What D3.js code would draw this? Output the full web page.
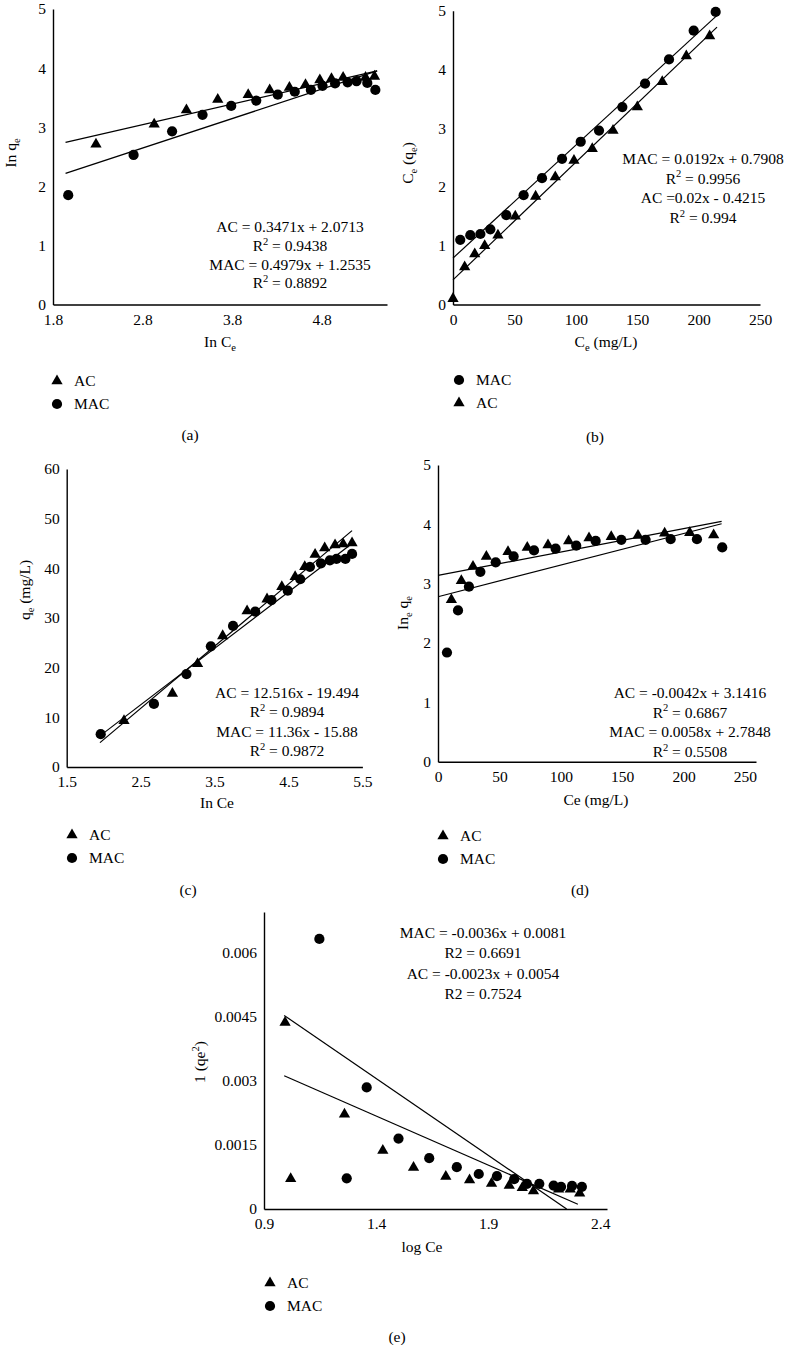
<!DOCTYPE html>
<html><head><meta charset="utf-8">
<script src="https://cdn.jsdelivr.net/npm/d3@7"></script>
<style>
body{margin:0;background:#fff}
svg{display:block}
text{font-family:"Liberation Serif","Times New Roman",serif;fill:#000;white-space:pre}
</style>
</head><body>
<svg id="chart" width="786" height="1345"></svg>
<script>
// ---------- DATA ----------
// Panel (a)  ln qe vs ln Ce
const aXTicks = [1.8, 2.8, 3.8, 4.8];
const aYTicks = [0, 1, 2, 3, 4, 5];
const aAC = [[2.28,2.71],[2.93,3.05],[3.29,3.29],[3.64,3.47],[3.98,3.55],[4.22,3.63],[4.44,3.67],[4.62,3.72],[4.78,3.80],[4.91,3.82],[5.04,3.84],[5.29,3.84],[5.39,3.86]];
const aMAC = [[1.97,1.85],[2.70,2.53],[3.13,2.93],[3.47,3.21],[3.79,3.36],[4.07,3.45],[4.31,3.55],[4.50,3.60],[4.68,3.63],[4.81,3.70],[4.95,3.74],[5.09,3.76],[5.19,3.78],[5.31,3.75],[5.40,3.63]];
const aTrendAC = [[1.94,2.744],[5.42,3.952]];
const aTrendMAC = [[1.94,2.219],[5.42,3.952]];
const aEq = ["AC = 0.3471x + 2.0713","R^2 = 0.9438","MAC = 0.4979x + 1.2535","R^2 = 0.8892"];

// Panel (b)  Ce/qe vs Ce
const bXTicks = [0, 50, 100, 150, 200, 250];
const bYTicks = [0, 1, 2, 3, 4, 5];
const bMAC = [[5.9,1.10],[14.1,1.18],[22.3,1.20],[30.4,1.28],[43.4,1.52],[57.5,1.86],[72.5,2.15],[88.8,2.48],[104.0,2.77],[118.9,2.96],[137.9,3.36],[156.4,3.76],[175.9,4.17],[196.0,4.66],[213.9,4.98]];
const bAC = [[0,0.10],[9.5,0.64],[17.7,0.86],[25.8,1.00],[36.6,1.18],[50.7,1.50],[67.3,1.84],[83.3,2.17],[98.5,2.45],[113.4,2.65],[130.3,2.96],[150.1,3.36],[170.4,3.79],[190.0,4.23],[209.0,4.57]];
const bTrendMAC = [[0,0.79],[215,4.92]];
const bTrendAC = [[0,0.42],[215,4.72]];
const bEq = ["MAC = 0.0192x + 0.7908","R^2 = 0.9956","AC =0.02x - 0.4215","R^2 = 0.994"];

// Panel (c)  qe vs ln Ce
const cXTicks = [1.5, 2.5, 3.5, 4.5, 5.5];
const cYTicks = [0, 10, 20, 30, 40, 50, 60];
const cAC = [[2.275,9.3],[2.93,14.8],[3.27,20.8],[3.61,26.4],[3.94,31.4],[4.21,33.8],[4.41,36.3],[4.59,38.3],[4.72,40.3],[4.86,42.8],[4.99,44.1],[5.13,44.7],[5.24,44.9],[5.36,45.1]];
const cMAC = [[1.96,6.6],[2.68,12.7],[3.12,18.7],[3.45,24.3],[3.75,28.4],[4.05,31.3],[4.27,33.6],[4.49,35.5],[4.66,37.8],[4.79,40.3],[4.94,41.0],[5.06,41.6],[5.15,41.9],[5.27,41.9],[5.36,42.9]];
const cTrendAC = [[1.95,4.91],[5.36,47.6]];
const cTrendMAC = [[1.95,6.27],[5.36,45.0]];
const cEq = ["AC = 12.516x - 19.494","R^2 = 0.9894","MAC = 11.36x - 15.88","R^2 = 0.9872"];

// Panel (d)  ln qe vs Ce
const dXTicks = [0, 50, 100, 150, 200, 250];
const dYTicks = [0, 1, 2, 3, 4, 5];
const dAC = [[10.9,2.73],[19.0,3.05],[28.5,3.29],[39.4,3.46],[57.0,3.54],[72.7,3.61],[89.6,3.65],[106.4,3.72],[123.0,3.77],[141.1,3.79],[162.9,3.81],[184.6,3.85],[205.0,3.86],[224.5,3.82]];
const dMAC = [[7.3,1.84],[16.3,2.55],[25.2,2.95],[34.5,3.20],[47.0,3.36],[61.6,3.46],[78.2,3.56],[95.8,3.59],[112.6,3.64],[128.4,3.72],[149.3,3.74],[169.1,3.74],[189.5,3.75],[210.9,3.75],[231.5,3.61]];
const dTrendAC = [[0,3.14],[231,4.05]];
const dTrendMAC = [[0,2.78],[231,4.01]];
const dEq = ["AC = -0.0042x + 3.1416","R^2 = 0.6867","MAC = 0.0058x + 2.7848","R^2 = 0.5508"];

// Panel (e)  1/qe^2 vs log Ce
const eXTicks = [0.9, 1.4, 1.9, 2.4];
const eYTicks = [0, 0.0015, 0.003, 0.0045, 0.006];
const eAC = [[0.994,0.00437],[1.019,0.00071],[1.259,0.00222],[1.430,0.00137],[1.567,0.00097],[1.711,0.00076],[1.817,0.00068],[1.915,0.00060],[1.994,0.00055],[2.052,0.00050],[2.102,0.00042],[2.214,0.00046],[2.266,0.00046],[2.308,0.00037]];
const eMAC = [[1.147,0.00633],[1.269,0.00072],[1.358,0.00285],[1.500,0.00165],[1.637,0.00119],[1.760,0.00098],[1.858,0.00082],[1.939,0.00077],[2.016,0.00070],[2.073,0.00059],[2.128,0.00059],[2.192,0.00055],[2.225,0.00052],[2.274,0.00054],[2.318,0.00052]];
const eTrendMAC = [[0.99,0.004536],[2.25,0]];
const eTrendAC = [[0.99,0.003123],[2.30,0.00011]];
const eEq = ["MAC = -0.0036x + 0.0081","R2 = 0.6691","AC = -0.0023x + 0.0054","R2 = 0.7524"];

// ---------- DRAWING ----------
const FS = 15.5;
const svg = d3.select('#chart');

function rich(t, str, fs){
  let shift = 0;
  str.split(/(\^.|_.)/).filter(s => s.length).forEach(p => {
    let target = 0, txt = p, size = fs;
    if (p[0] === '^') { target = -fs*0.4; txt = p.slice(1); size = fs*0.68; }
    else if (p[0] === '_') { target = fs*0.28; txt = p.slice(1); size = fs*0.68; }
    t.append('tspan').attr('dy', target - shift).attr('font-size', size).text(txt);
    shift = target;
  });
}

function label(x, y, str, opts = {}){
  const t = svg.append('text').attr('text-anchor', opts.anchor || 'middle').attr('font-size', FS);
  if (opts.rotate) t.attr('transform', `translate(${x + 5},${y}) rotate(-90)`);
  else t.attr('x', x).attr('y', y + 5);
  rich(t, str, FS);
  return t;
}

const triSym = d3.symbol().type(d3.symbolTriangle).size(55);
const cirSym = d3.symbol().type(d3.symbolCircle).size(82);
const shapes = {tri: triSym, circ: cirSym};

function panel(p){
  const x = d3.scaleLinear().domain(p.xDomain).range(p.xRange);
  const y = d3.scaleLinear().domain(p.yDomain).range(p.yRange);
  const g = svg.append('g');
  const ax = g.append('g').attr('transform', `translate(0,${p.yRange[0]})`)
    .call(d3.axisBottom(x).tickValues(p.xTicks).tickSize(0).tickPadding(9).tickFormat(String));
  const ay = g.append('g').attr('transform', `translate(${p.xRange[0]},0)`)
    .call(d3.axisLeft(y).tickValues(p.yTicks).tickSize(0).tickPadding(7).tickFormat(String));
  [ax, ay].forEach(a => {
    a.attr('font-size', FS).attr('font-family', null);
    a.select('.domain').attr('stroke', '#000').attr('stroke-width', 1.4);
  });
  const line = d3.line().x(d => x(d[0])).y(d => y(d[1]));
  p.trends.forEach(tr => g.append('path').attr('d', line(tr)).attr('fill', 'none').attr('stroke', '#000').attr('stroke-width', 1.2));
  p.series.forEach(s => {
    g.append('g').selectAll('path').data(s.data).join('path')
      .attr('transform', d => `translate(${x(d[0])},${y(d[1])})`)
      .attr('d', shapes[s.shape]).attr('fill', '#000');
  });
  p.eq.forEach((str, i) => label(p.eqPos[0], p.eqPos[1] + i*p.eqStep, str));
  label(p.xLabelPos[0], p.xLabelPos[1], p.xLabel);
  label(p.yLabelPos[0], p.yLabelPos[1], p.yLabel, {rotate: true});
  p.legend.forEach((lg, i) => {
    const ly = p.legendPos[1] + i*23;
    svg.append('path').attr('transform', `translate(${p.legendPos[0]},${ly})`).attr('d', shapes[lg.shape]).attr('fill', '#000');
    label(p.legendPos[0] + 17, ly, lg.name, {anchor: 'start'});
  });
  label(p.letterPos[0], p.letterPos[1], p.letter);
}

panel({xDomain:[1.8,5.53], xRange:[53,387], yDomain:[0,5], yRange:[304.5,9],
  xTicks:aXTicks, yTicks:aYTicks, series:[{shape:'tri',data:aAC},{shape:'circ',data:aMAC}],
  trends:[aTrendAC,aTrendMAC], eq:aEq, eqPos:[290,227], eqStep:18.8,
  xLabel:"In C_e", xLabelPos:[220,342], yLabel:"In q_e", yLabelPos:[11,153],
  legend:[{shape:'tri',name:'AC'},{shape:'circ',name:'MAC'}], legendPos:[57,381],
  letter:'(a)', letterPos:[190,435]});

panel({xDomain:[0,250], xRange:[453,760], yDomain:[0,5], yRange:[304.5,10.7],
  xTicks:bXTicks, yTicks:bYTicks, series:[{shape:'circ',data:bMAC},{shape:'tri',data:bAC}],
  trends:[bTrendMAC,bTrendAC], eq:bEq, eqPos:[703,159], eqStep:19.6,
  xLabel:"C_e (mg/L)", xLabelPos:[606,342], yLabel:"C_e (q_e)", yLabelPos:[408,163],
  legend:[{shape:'circ',name:'MAC'},{shape:'tri',name:'AC'}], legendPos:[459,380],
  letter:'(b)', letterPos:[595,437]});

panel({xDomain:[1.5,5.5], xRange:[66.7,362.4], yDomain:[0,60], yRange:[767,469],
  xTicks:cXTicks, yTicks:cYTicks, series:[{shape:'tri',data:cAC},{shape:'circ',data:cMAC}],
  trends:[cTrendAC,cTrendMAC], eq:cEq, eqPos:[287,693], eqStep:19.4,
  xLabel:"In Ce", xLabelPos:[217,803], yLabel:"q_e (mg/L)", yLabelPos:[25,590],
  legend:[{shape:'tri',name:'AC'},{shape:'circ',name:'MAC'}], legendPos:[72,835],
  letter:'(c)', letterPos:[188,890]});

panel({xDomain:[0,259], xRange:[438,756], yDomain:[0,5], yRange:[761.7,465],
  xTicks:dXTicks, yTicks:dYTicks, series:[{shape:'tri',data:dAC},{shape:'circ',data:dMAC}],
  trends:[dTrendAC,dTrendMAC], eq:dEq, eqPos:[690,693], eqStep:19.6,
  xLabel:"Ce (mg/L)", xLabelPos:[596,800], yLabel:"In_e q_e", yLabelPos:[403,613],
  legend:[{shape:'tri',name:'AC'},{shape:'circ',name:'MAC'}], legendPos:[443,836],
  letter:'(d)', letterPos:[580,890]});

panel({xDomain:[0.9,2.43], xRange:[264,607], yDomain:[0,0.00696], yRange:[1209,912],
  xTicks:eXTicks, yTicks:eYTicks, series:[{shape:'tri',data:eAC},{shape:'circ',data:eMAC}],
  trends:[eTrendMAC,eTrendAC], eq:eEq, eqPos:[483,933], eqStep:20.3,
  xLabel:"log Ce", xLabelPos:[422,1247], yLabel:"1 (qe^2)", yLabelPos:[200,1062],
  legend:[{shape:'tri',name:'AC'},{shape:'circ',name:'MAC'}], legendPos:[270,1283],
  letter:'(e)', letterPos:[397,1337]});
</script>
</body></html>
